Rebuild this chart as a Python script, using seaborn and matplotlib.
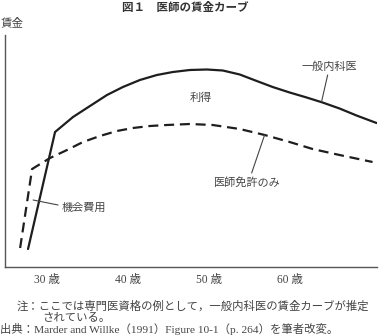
import matplotlib
matplotlib.use("Agg")
import matplotlib.pyplot as plt
import seaborn as sns
import pandas as pd

# ---- data ----
# General internist wage curve (solid)
internist_age = [27.65, 30.99, 33.21, 35.31, 37.41, 39.38, 41.48, 43.58, 45.56, 47.65,
                 49.75, 51.73, 53.83, 55.93, 57.90, 60.0, 62.10, 64.07, 66.17, 68.27, 70.74]
internist_wage = [1.8, 13.5, 15.0, 16.1, 17.2, 18.0, 18.7, 19.2, 19.5, 19.7,
                  19.75, 19.65, 19.25, 18.6, 18.0, 17.45, 16.95, 16.45, 15.85, 15.15, 14.4]
# Medical licence only (dashed)
license_age = [26.67, 28.15, 30.37, 32.47, 34.44, 36.54, 38.64, 40.62, 42.72, 44.81,
               47.65, 50.49, 53.83, 56.91, 60.0, 62.84, 66.17, 70.25]
license_wage = [1.9, 9.8, 10.9, 11.7, 12.5, 13.1, 13.6, 13.9, 14.1, 14.2,
                14.3, 14.2, 13.8, 13.2, 12.5, 11.8, 11.2, 10.5]

tick_ages = [30, 40, 50, 60]
tick_labels = ["30 歳", "40 歳", "50 歳", "60 歳"]

title = "図１　医師の賃金カーブ"
ylabel = "賃金"
label_internist = "一般内科医"
label_gain = "利得"
label_license = "医師免許のみ"
label_cost = "機会費用"
note1 = "注：ここでは専門医資格の例として，一般内科医の賃金カーブが推定"
note2 = "されている。"
source = "出典：Marder and Willke（1991）Figure 10-1（p. 264）を筆者改変。"

df_i = pd.DataFrame({"age": internist_age, "wage": internist_wage})
df_l = pd.DataFrame({"age": license_age, "wage": license_wage})

sns.set_theme(style="white")
plt.rcParams["font.family"] = ["Noto Sans CJK JP", "DejaVu Sans"]
serif = ["Liberation Serif", "Noto Sans CJK JP"]

W, H = 381, 336
fig = plt.figure(figsize=(W / 100, H / 100), dpi=100)
ax = fig.add_axes([5 / W, (H - 267) / H, (377 - 5) / W, (267 - 35) / H])

line_col = "#1e1e1e"
txt_col = "#444444"

sns.lineplot(data=df_i, x="age", y="wage", ax=ax, color=line_col, lw=1.6,
             estimator=None, sort=False)
sns.lineplot(data=df_l, x="age", y="wage", ax=ax, color=line_col, lw=1.6,
             estimator=None, sort=False, linestyle=(0, (4.5, 2.6)))

ax.set_xlim(24.8, 70.8)
ax.set_ylim(0, 23.2)
ax.set_xticks(tick_ages)
ax.set_xticklabels(tick_labels, fontsize=8.3, color=txt_col, family=serif)
ax.set_yticks([])
ax.set_xlabel("")
ax.set_ylabel("")
for s in ["top", "right"]:
    ax.spines[s].set_visible(False)
for s in ["left", "bottom"]:
    ax.spines[s].set_color("#555555")
    ax.spines[s].set_linewidth(1.0)
ax.tick_params(axis="x", direction="in", length=4, width=0.8, color="#555555", pad=5)

# curve labels and leader lines
ax.text(64.9, 20.0, label_internist, ha="center", va="center", fontsize=8, color=txt_col)
ax.plot([64.7, 63.95], [19.2, 16.55], color=txt_col, lw=0.8)
ax.text(49.0, 16.9, label_gain, ha="center", va="center", fontsize=8, color=txt_col)
ax.text(54.8, 8.4, label_license, ha="center", va="center", fontsize=8, color=txt_col)
ax.plot([56.9, 55.3], [13.2, 9.4], color=txt_col, lw=0.8)
ax.text(34.6, 5.9, label_cost, ha="center", va="center", fontsize=8, color=txt_col)
ax.plot([28.27, 31.36], [6.7, 6.2], color=txt_col, lw=0.8)

# figure texts
fig.text(185 / W, 1 - 8 / H, title, ha="center", va="center", fontsize=8.3,
         fontweight="bold", color="#333333")
fig.text(0.5 / W, 1 - 23 / H, ylabel, ha="left", va="center", fontsize=8.3, color=txt_col)
fig.text(17 / W, 1 - 306 / H, note1, ha="left", va="center", fontsize=8.2, color=txt_col,
         family=serif)
fig.text(42 / W, 1 - 318 / H, note2, ha="left", va="center", fontsize=8.2, color=txt_col,
         family=serif)
fig.text(0 / W, 1 - 329 / H, source, ha="left", va="center", fontsize=8.2, color=txt_col,
         family=serif)

fig.savefig("out.png", dpi=100)
